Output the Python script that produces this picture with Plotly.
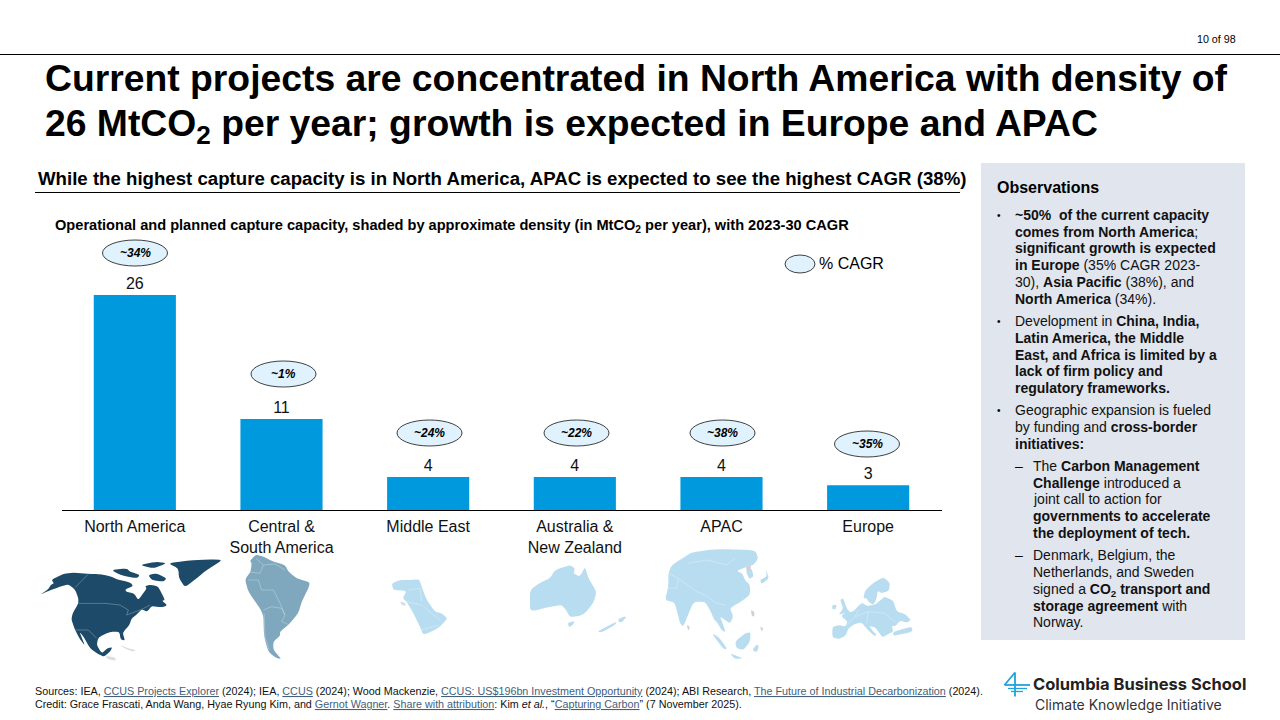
import plotly.graph_objects as go

W, H = 1280, 720
SANS = "Liberation Sans, Arial, sans-serif"
LOGO = "Inter, Liberation Sans, sans-serif"

# Chart data
regions = ["North America", "Central &<br>South America", "Middle East",
           "Australia &<br>New Zealand", "APAC", "Europe"]
capacity = [26, 11, 4, 4, 4, 3]
cagr_labels = ["~34%", "~1%", "~24%", "~22%", "~38%", "~35%"]

# Palette
BAR = "#0099DD"
PANEL = "#E0E5EE"
BUBBLE = "#DFF2FD"
MAP_DARK = "#1C4A68"
MAP_MID = "#7FA8BF"
MAP_LIGHT = "#B9DDF0"
MAP_GREY = "#DDDDDD"
MAP_PINK = "#D8CBD6"
LINK = "#44607A"
LOGO_BLUE = "#1FA3DD"


def fx(x):
    return x / W


def fy(y):
    return 1 - y / H


shapes = []
annotations = []


def text(x, y, s, size=14, color="#000000", anchor="left", family=SANS):
    annotations.append(dict(
        x=fx(x), y=fy(y), xref="paper", yref="paper", text=s, showarrow=False,
        xanchor=anchor, yanchor="middle", align=anchor, borderpad=0, borderwidth=0,
        font=dict(family=family, size=size, color=color)))


def line(x0, y0, x1, y1, color="#000000", width=1.0, layer="above"):
    shapes.append(dict(type="line", xref="paper", yref="paper", x0=fx(x0), y0=fy(y0),
                       x1=fx(x1), y1=fy(y1), layer=layer, line=dict(color=color, width=width)))


def rect(x0, y0, x1, y1, fill):
    shapes.append(dict(type="rect", xref="paper", yref="paper", x0=fx(x0), y0=fy(y0),
                       x1=fx(x1), y1=fy(y1), layer="below", fillcolor=fill, line=dict(width=0)))


def ellipse(cx, cy, w, h):
    shapes.append(dict(type="circle", xref="paper", yref="paper", x0=fx(cx - w / 2), y0=fy(cy - h / 2),
                       x1=fx(cx + w / 2), y1=fy(cy + h / 2), layer="above", fillcolor=BUBBLE,
                       line=dict(color="#111111", width=0.8)))


def blob(points, ox, oy, fill, t=0.28):
    """Closed outline with slightly rounded corners; points are at 3x scale around an origin."""
    p = [(ox + a / 3, oy + b / 3) for a, b in points]
    n = len(p)
    d = ""
    for i in range(n):
        prev, cur, nxt = p[i - 1], p[i], p[(i + 1) % n]
        a = (cur[0] + (prev[0] - cur[0]) * t, cur[1] + (prev[1] - cur[1]) * t)
        b = (cur[0] + (nxt[0] - cur[0]) * t, cur[1] + (nxt[1] - cur[1]) * t)
        d += ("M " if i == 0 else " L ") + f"{fx(a[0]):.5f} {fy(a[1]):.5f}"
        d += f" Q {fx(cur[0]):.5f} {fy(cur[1]):.5f} {fx(b[0]):.5f} {fy(b[1]):.5f}"
    shapes.append(dict(type="path", xref="paper", yref="paper", path=d + " Z", layer="below",
                       fillcolor=fill, line=dict(width=0)))


def border(points, ox, oy, color="rgba(255,255,255,0.45)", width=0.6):
    """Open polyline, drawn as separate segments so nothing gets filled."""
    p = [(ox + a / 3, oy + b / 3) for a, b in points]
    for (x0, y0), (x1, y1) in zip(p, p[1:]):
        line(x0, y0, x1, y1, color=color, width=width, layer="below")


# Header
line(0, 54.5, W, 54.5, width=1, layer="below")
text(1216.5, 39, "10 of 98", size=10.7, anchor="center")
text(45, 78, "<b>Current projects are concentrated in North America with density of</b>", size=37.3)
text(45, 126, "<b>26 MtCO<sub>2</sub> per year; growth is expected in Europe and APAC</b>", size=37.3)

# Section heading and chart title
text(38, 178, "<b>While the highest capture capacity is in North America, APAC is expected to see the highest CAGR (38%)</b>", size=18.65)
line(35, 192.5, 960, 192.5, width=1)
text(55, 225.5, "<b>Operational and planned capture capacity, shaded by approximate density (in MtCO<sub>2</sub> per year), with 2023-30 CAGR</b>", size=14.6)

# CAGR bubbles above the bars
bubble_centres = [(135, 253), (283.5, 374), (429.5, 433), (576.5, 433), (722.5, 433), (867, 444)]
for (cx, cy), lab in zip(bubble_centres, cagr_labels):
    ellipse(cx, cy, 65, 26)
    text(cx, cy, f"<b><i>{lab}</i></b>", size=12, anchor="center")
ellipse(800, 264, 30, 18)
text(819, 263, "% CAGR", size=16)

# Observations panel
rect(981, 163, 1245, 640, PANEL)
text(997, 188, "<b>Observations</b>", size=16)
obs = [
    (215, "•", "<b>~50%  of the current capacity</b>"),
    (232, "", "<b>comes from North America</b>;"),
    (248, "", "<b>significant growth is expected</b>"),
    (265, "", "<b>in Europe</b> (35% CAGR 2023-"),
    (282, "", "30), <b>Asia Pacific</b> (38%), and"),
    (299, "", "<b>North America</b> (34%)."),
    (321, "•", "Development in <b>China, India,</b>"),
    (338, "", "<b>Latin America, the Middle</b>"),
    (355, "", "<b>East, and Africa is limited by a</b>"),
    (371, "", "<b>lack of firm policy and</b>"),
    (388, "", "<b>regulatory frameworks.</b>"),
    (410, "•", "Geographic expansion is fueled"),
    (427, "", "by funding and <b>cross-border</b>"),
    (444, "", "<b>initiatives:</b>"),
]
sub_obs = [
    (466, "–", "The <b>Carbon Management</b>"),
    (483, "", "<b>Challenge</b> introduced a"),
    (499, "", "joint call to action for"),
    (516, "", "<b>governments to accelerate</b>"),
    (533, "", "<b>the deployment of tech.</b>"),
    (555, "–", "Denmark, Belgium, the"),
    (572, "", "Netherlands, and Sweden"),
    (590, "", "signed a <b>CO<sub>2</sub> transport and</b>"),
    (606, "", "<b>storage agreement</b> with"),
    (622, "", "Norway."),
]
for y, mark, s in obs:
    if mark:
        text(997, y, mark, size=10)
    text(1015, y, s, size=14, color="#111111")
for y, mark, s in sub_obs:
    if mark:
        text(1015, y, mark, size=14)
    text(1033, y, s, size=14, color="#111111")

# North America
NA_O = (30, 550)
blob([(30, 134), (55, 118), (62, 105), (72, 100), (65, 90), (78, 82), (100, 72), (130, 68), (175, 72), (205, 72),
      (240, 78), (262, 88), (300, 97), (310, 108), (285, 118), (290, 126), (312, 130), (325, 150), (338, 132),
      (350, 115), (345, 108), (362, 104), (385, 110), (405, 150), (396, 152), (412, 166), (396, 172), (365, 168),
      (352, 185), (335, 178), (318, 195), (305, 205), (298, 225), (278, 248), (285, 272), (272, 268), (268, 245),
      (240, 245), (205, 262), (200, 285), (215, 310), (232, 295), (247, 292), (240, 305), (222, 320), (205, 312),
      (180, 295), (162, 262), (148, 245), (165, 287), (150, 268), (135, 240), (124, 208), (128, 190), (145, 160),
      (145, 145), (135, 118), (115, 103), (90, 110), (55, 123)], *NA_O, MAP_DARK)
blob([(415, 40), (470, 32), (540, 28), (578, 30), (530, 60), (500, 85), (465, 112), (447, 85), (445, 55)], *NA_O, MAP_DARK)
blob([(245, 60), (290, 55), (300, 65), (330, 75), (320, 85), (270, 75)], *NA_O, MAP_DARK)
blob([(330, 45), (380, 35), (410, 40), (370, 55)], *NA_O, MAP_DARK)
blob([(355, 75), (380, 70), (410, 85), (400, 95), (365, 90)], *NA_O, MAP_DARK)
blob([(225, 318), (255, 322), (258, 332), (235, 328)], *NA_O, MAP_GREY)
blob([(268, 284), (295, 295), (318, 300), (310, 305), (285, 296)], *NA_O, MAP_GREY)
border([(175, 72), (135, 113)], *NA_O)
border([(145, 160), (225, 160), (270, 165), (295, 180), (290, 195), (335, 178), (360, 165)], *NA_O)
border([(135, 240), (175, 240), (200, 265)], *NA_O)

# Central and South America
SA_O = (230, 550)
blob([(60, 32), (78, 14), (100, 20), (130, 35), (165, 45), (175, 65), (200, 85), (240, 97), (235, 115), (215, 155),
      (205, 190), (175, 225), (150, 245), (150, 258), (130, 275), (130, 300), (155, 328), (135, 322), (115, 305),
      (102, 260), (100, 190), (55, 125), (45, 88), (62, 65), (65, 40)], *SA_O, MAP_MID)
border([(78, 25), (100, 45), (90, 70), (50, 65)], *SA_O)
border([(100, 45), (135, 42), (165, 60)], *SA_O)
border([(55, 90), (85, 90), (95, 120), (130, 120), (150, 160), (165, 195), (155, 215)], *SA_O)
border([(100, 180), (125, 170), (155, 175), (165, 195)], *SA_O)
border([(102, 190), (105, 260), (118, 300)], *SA_O)
border([(155, 215), (178, 225)], *SA_O)

# Middle East
ME_O = (380, 570)
blob([(35, 40), (60, 30), (90, 30), (118, 28), (125, 50), (140, 90), (165, 125), (185, 130), (203, 145), (175, 175),
      (130, 195), (120, 170), (100, 130), (80, 95), (68, 85), (80, 62), (40, 60)], *ME_O, MAP_LIGHT)
blob([(60, 95), (74, 97), (78, 107), (66, 106)], *ME_O, MAP_GREY)
border([(85, 60), (120, 55), (125, 95)], *ME_O)
border([(80, 95), (125, 105), (180, 150)], *ME_O)
border([(125, 180), (175, 165)], *ME_O)

# Australia and New Zealand
AU_O = (520, 560)
blob([(30, 90), (60, 68), (90, 55), (105, 30), (150, 15), (165, 25), (160, 40), (180, 50), (195, 20), (205, 55),
      (230, 95), (220, 130), (190, 165), (150, 172), (138, 150), (125, 135), (90, 140), (45, 152), (30, 150)],
     *AU_O, MAP_LIGHT)
blob([(143, 188), (165, 183), (158, 195), (147, 202)], *AU_O, MAP_LIGHT)
blob([(232, 215), (270, 195), (290, 185), (285, 195), (245, 217)], *AU_O, MAP_LIGHT)
blob([(295, 178), (310, 170), (320, 170), (305, 187), (297, 187)], *AU_O, MAP_LIGHT)

# Asia Pacific
AS_O = (655, 545)
blob([(40, 85), (50, 60), (90, 35), (110, 22), (180, 12), (300, 15), (310, 40), (295, 60), (275, 65), (245, 78),
      (262, 85), (270, 105), (285, 120), (285, 150), (255, 172), (240, 180), (225, 190), (235, 215), (225, 235),
      (210, 225), (195, 215), (205, 240), (212, 262), (200, 255), (185, 230), (178, 225), (165, 195), (150, 170),
      (115, 170), (85, 245), (75, 235), (65, 195), (58, 172), (30, 165), (40, 125)], *AS_O, MAP_LIGHT)
blob([(272, 75), (290, 70), (296, 95), (282, 102)], *AS_O, MAP_LIGHT)
blob([(315, 105), (335, 95), (333, 75), (342, 100), (320, 117)], *AS_O, MAP_LIGHT)
blob([(170, 265), (190, 275), (217, 312), (205, 312)], *AS_O, MAP_LIGHT)
blob([(240, 290), (270, 265), (287, 262), (285, 290), (265, 315), (245, 310)], *AS_O, MAP_LIGHT)
blob([(292, 315), (305, 298), (312, 305), (305, 322)], *AS_O, MAP_LIGHT)
blob([(225, 325), (265, 340), (240, 342)], *AS_O, MAP_LIGHT)
blob([(95, 240), (105, 245), (100, 258)], *AS_O, MAP_PINK)
blob([(288, 195), (298, 200), (298, 215), (290, 212)], *AS_O, MAP_PINK)
blob([(315, 245), (325, 250), (320, 260)], *AS_O, MAP_PINK)
blob([(274, 64), (288, 62), (286, 74), (274, 75)], *AS_O, MAP_PINK)
border([(100, 55), (155, 45), (215, 60), (240, 40)], *AS_O)
border([(40, 85), (70, 100), (125, 140), (150, 150)], *AS_O)
border([(35, 130), (65, 130), (70, 100)], *AS_O)
border([(150, 150), (185, 175), (210, 180)], *AS_O)

# Europe
EU_O = (825, 570)
blob([(115, 85), (120, 62), (145, 38), (175, 22), (195, 38), (192, 62), (170, 70), (158, 62), (155, 85), (145, 105),
      (130, 95), (125, 85)], *EU_O, MAP_LIGHT)
blob([(22, 170), (45, 165), (60, 170), (68, 155), (48, 138), (65, 125), (85, 125), (100, 108), (112, 98), (125, 108),
      (150, 104), (170, 88), (178, 80), (205, 92), (215, 125), (240, 132), (258, 150), (245, 158), (225, 152),
      (212, 168), (200, 168), (205, 185), (190, 192), (172, 202), (160, 185), (150, 172), (132, 168), (145, 185),
      (155, 195), (148, 198), (125, 176), (110, 158), (95, 160), (85, 165), (70, 175), (62, 198), (40, 207),
      (22, 202)], *EU_O, MAP_LIGHT)
blob([(45, 90), (55, 85), (65, 115), (75, 125), (40, 135), (55, 115)], *EU_O, MAP_LIGHT)
blob([(22, 105), (35, 105), (32, 118), (22, 118)], *EU_O, MAP_LIGHT)
blob([(205, 185), (260, 170), (263, 185), (205, 198)], *EU_O, MAP_LIGHT)
border([(60, 170), (90, 140), (130, 125), (180, 130), (215, 160)], *EU_O)
border([(130, 125), (125, 160)], *EU_O)
border([(90, 140), (100, 120)], *EU_O)

# Source notes
u = lambda s: f'<span style="color:{LINK};text-decoration:underline">{s}</span>'
text(35, 691, f"Sources: IEA, {u('CCUS Projects Explorer')} (2024); IEA, {u('CCUS')} (2024); Wood Mackenzie, "
              f"{u('CCUS: US$196bn Investment Opportunity')} (2024); ABI Research, "
              f"{u('The Future of Industrial Decarbonization')} (2024).", size=10.75, color="#111111")
text(35, 704, f"Credit: Grace Frascati, Anda Wang, Hyae Ryung Kim, and {u('Gernot Wagner')}. "
              f"{u('Share with attribution')}: Kim <i>et al.</i>, “{u('Capturing Carbon')}” (7 November 2025).",
     size=10.75, color="#111111")

# Wordmark
line(1015, 672.5, 1015, 696.5, color=LOGO_BLUE, width=1.8)
line(1015, 672.5, 1004.5, 685, color=LOGO_BLUE, width=1.8)
line(1004.5, 685, 1030, 685, color=LOGO_BLUE, width=1.8)
line(1008, 688.5, 1027, 688.5, color=LOGO_BLUE, width=1.3)
line(1011, 691.5, 1023, 691.5, color=LOGO_BLUE, width=1.3)
text(1033, 684, "<b>Columbia Business School</b>", size=16.5, color="#222222", family=LOGO)
text(1035, 704, "Climate Knowledge Initiative", size=14, color="#333333", family=LOGO)

fig = go.Figure(go.Bar(
    x=regions, y=capacity, text=capacity, textposition="outside", cliponaxis=False,
    textfont=dict(family=SANS, size=16, color="#111111"),
    marker=dict(color=BAR, line=dict(width=0)), width=0.56, hoverinfo="skip"))

fig.update_layout(
    width=W, height=H, margin=dict(l=0, r=0, t=0, b=0, autoexpand=False),
    paper_bgcolor="#FFFFFF", plot_bgcolor="rgba(0,0,0,0)", showlegend=False,
    shapes=shapes, annotations=annotations,
    xaxis=dict(domain=[61.5 / W, 941.5 / W], type="category", showgrid=False, zeroline=False,
               showline=True, linecolor="#000000", linewidth=1, ticks="", anchor="y",
               tickfont=dict(family=SANS, size=16, color="#111111"), ticklabelstandoff=2, tickangle=0),
    yaxis=dict(domain=[1 - 510 / H, 1 - 295 / H], range=[0, 26], visible=False),
)

fig.write_html("out.html", config=dict(displayModeBar=False))
